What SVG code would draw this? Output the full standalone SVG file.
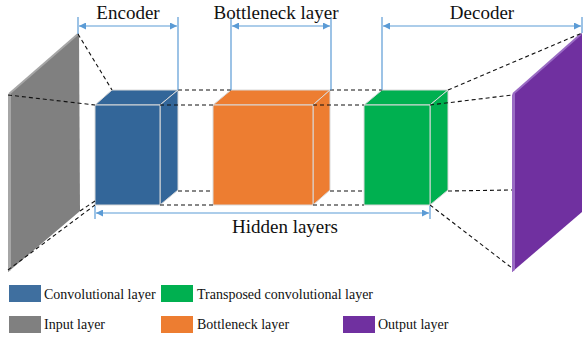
<svg xmlns="http://www.w3.org/2000/svg" width="584" height="342" viewBox="0 0 584 342">
<style>
.t{font-family:"Liberation Serif","Times New Roman",serif;fill:#111}
.big{font-size:19px}
.lg{font-size:14px}
.dash{stroke:#111;stroke-width:1.1;stroke-dasharray:4,3;fill:none}
.dim{stroke:#5b9bd5;stroke-width:1.2;fill:none}
.edge{stroke:#d9d9d9;stroke-width:1}
</style>
<defs>
<marker id="ah" viewBox="0 0 10 10" refX="10" refY="5" markerWidth="9" markerHeight="7" markerUnits="userSpaceOnUse" orient="auto-start-reverse">
<path d="M0,0 L10,5 L0,10 z" fill="#5b9bd5"/>
</marker>
</defs>
<rect width="584" height="342" fill="#fff"/>
<g id="input-layer">
<polygon points="8,95 79,33 80,211 8,272" fill="#808080"/>
<polygon points="8,95 11,93 11,270 8,272" fill="#a6a6a6"/>
<line x1="9" y1="94" x2="78" y2="34" stroke="#a6a6a6" stroke-width="2"/>
</g>
<g id="output-layer">
<polygon points="512,95 582,33 582,212 512,272" fill="#7030a0"/>
<polygon points="512,95 515,93 515,270 512,272" fill="#9a6cc4"/>
<line x1="513" y1="94" x2="581" y2="34" stroke="#9a6cc4" stroke-width="2"/>
</g>
<g id="encoder-cube">
<polygon points="95,105 112,90 178,90 160,105" fill="#336699" class="edge"/>
<polygon points="160,105 178,90 178,190 160,205" fill="#336699" class="edge"/>
<rect x="95" y="105" width="65" height="100" fill="#336699" class="edge"/>
</g>
<g id="bottleneck-cube">
<polygon points="213,105 231,90 330,90 313,105" fill="#ed7d31" class="edge"/>
<polygon points="313,105 330,90 330,190 313,205" fill="#ed7d31" class="edge"/>
<rect x="213" y="105" width="100" height="100" fill="#ed7d31" class="edge"/>
</g>
<g id="decoder-cube">
<polygon points="364,105 382,90 448,90 430,105" fill="#00b050" class="edge"/>
<polygon points="430,105 448,90 448,190 430,205" fill="#00b050" class="edge"/>
<rect x="364" y="105" width="66" height="100" fill="#00b050" class="edge"/>
</g>
<g id="connectors">
<line class="dash" x1="78" y1="34" x2="112" y2="90"/>
<line class="dash" x1="8" y1="95" x2="95" y2="105"/>
<line class="dash" x1="80" y1="211" x2="95" y2="201"/>
<line class="dash" x1="8" y1="270" x2="95" y2="205"/>
<line class="dash" x1="178" y1="90" x2="231" y2="90"/>
<line class="dash" x1="330" y1="90" x2="382" y2="90"/>
<line class="dash" x1="160" y1="105" x2="213" y2="105"/>
<line class="dash" x1="313" y1="105" x2="364" y2="105"/>
<line class="dash" x1="178" y1="191" x2="213" y2="191"/>
<line class="dash" x1="330" y1="191" x2="364" y2="191"/>
<line class="dash" x1="160" y1="205" x2="213" y2="205"/>
<line class="dash" x1="313" y1="205" x2="364" y2="205"/>
<line class="dash" x1="448" y1="90" x2="582" y2="33"/>
<line class="dash" x1="430" y1="105" x2="512" y2="95"/>
<line class="dash" x1="448" y1="191" x2="512" y2="190"/>
<line class="dash" x1="430" y1="205" x2="512" y2="268"/>
</g>
<g id="dimensions">
<line class="dim" x1="78" y1="17" x2="78" y2="34"/>
<line class="dim" x1="178" y1="17" x2="178" y2="90"/>
<line class="dim" x1="79" y1="26" x2="177" y2="26" marker-start="url(#ah)" marker-end="url(#ah)"/>
<line class="dim" x1="231" y1="17" x2="231" y2="90"/>
<line class="dim" x1="331" y1="17" x2="331" y2="90"/>
<line class="dim" x1="232" y1="26" x2="330" y2="26" marker-start="url(#ah)" marker-end="url(#ah)"/>
<line class="dim" x1="382" y1="17" x2="382" y2="90"/>
<line class="dim" x1="582" y1="17" x2="582" y2="33"/>
<line class="dim" x1="383" y1="26" x2="581" y2="26" marker-start="url(#ah)" marker-end="url(#ah)"/>
<line class="dim" x1="95" y1="206" x2="95" y2="219"/>
<line class="dim" x1="430" y1="206" x2="430" y2="219"/>
<line class="dim" x1="96" y1="213" x2="429" y2="213" marker-start="url(#ah)" marker-end="url(#ah)"/>
</g>
<text class="t big" x="128" y="19" text-anchor="middle">Encoder</text>
<text class="t big" x="276" y="19" text-anchor="middle">Bottleneck layer</text>
<text class="t big" x="482" y="19" text-anchor="middle">Decoder</text>
<text class="t big" x="285" y="233" text-anchor="middle">Hidden layers</text>
<g id="legend">
<rect x="9" y="285" width="32" height="17" fill="#3f6f9f"/>
<text class="t lg" x="44" y="299">Convolutional layer</text>
<rect x="161" y="285" width="32" height="17" fill="#00b050"/>
<text class="t lg" x="197" y="299">Transposed convolutional layer</text>
<rect x="9" y="316" width="32" height="17" fill="#808080"/>
<text class="t lg" x="44" y="329">Input layer</text>
<rect x="161" y="316" width="32" height="17" fill="#ed7d31"/>
<text class="t lg" x="197" y="329">Bottleneck layer</text>
<rect x="343" y="316" width="32" height="17" fill="#7030a0"/>
<text class="t lg" x="378" y="329">Output layer</text>
</g>
</svg>
